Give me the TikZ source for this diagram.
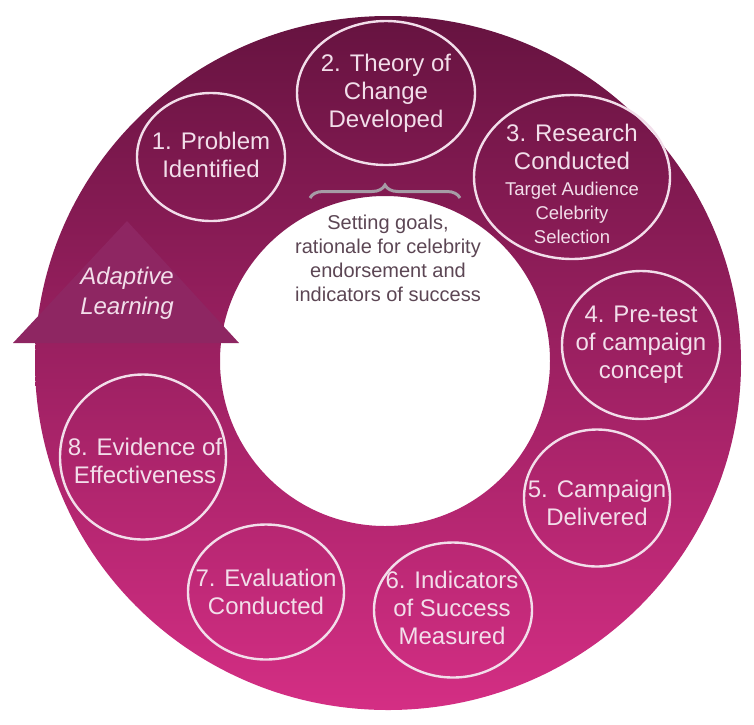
\documentclass[tikz,border=0pt]{standalone}
\usepackage{fontspec}
\setmainfont{Liberation Sans}
\usetikzlibrary{shapes.geometric,decorations.pathreplacing}
\definecolor{ringtop}{HTML}{661340}
\definecolor{ringmid}{HTML}{801C52}
\definecolor{ringbot}{HTML}{D42E84}
\definecolor{headfill}{HTML}{8E2662}
\definecolor{labelpink}{HTML}{F2DEEA}
\definecolor{notegray}{HTML}{5C4654}
\definecolor{bracegray}{HTML}{A69CA6}

\tikzset{
  stage/.style={draw=labelpink, line width=2.4pt, ellipse, inner sep=0pt},
  stagetext/.style={text=labelpink, align=center, inner sep=0pt, font=\fontsize{24}{28}\selectfont},
  subtext/.style={text=labelpink, align=center, inner sep=0pt, font=\fontsize{18.5}{24}\selectfont},
  notetext/.style={text=notegray, align=center, inner sep=0pt, font=\fontsize{20}{24}\selectfont}
}

\begin{document}
\begin{tikzpicture}[x=1pt, y=-1pt]
  \useasboundingbox (0,0) rectangle (754,724);
  \shade[top color=ringtop, middle color=ringmid, bottom color=ringbot, even odd rule]
    (388,363) ellipse (353 and 347) (385,361) circle (165);
  \fill[headfill] (13,343) -- (127,221) -- (239,343) -- cycle;
  \node[stagetext, font=\fontsize{24}{30}\selectfont\itshape] (adapt) at (127,293) {Adaptive\\Learning};

  \node[stage, minimum width=148, minimum height=128] (s1) at (211,157) {};
  \node[stage, minimum width=178, minimum height=144] (s2) at (386,93) {};
  \node[stage, minimum width=196, minimum height=164] (s3) at (572,177) {};
  \node[stage, minimum width=158, minimum height=148] (s4) at (641,345) {};
  \node[stage, minimum width=146, minimum height=137] (s5) at (597,498) {};
  \node[stage, minimum width=158, minimum height=135] (s6) at (453,610) {};
  \node[stage, minimum width=156, minimum height=135] (s7) at (266,592) {};
  \node[stage, minimum width=166, minimum height=165] (s8) at (143,457) {};

  \node[stagetext] (t1) at (211,155) {1. Problem\\Identified};
  \node[stagetext] (t2) at (386,93) {2. Theory of\\Change\\Developed};
  \node[stagetext] (t3) at (572,147) {3. Research\\Conducted};
  \node[subtext] (t3b) at (572,213) {Target Audience\\Celebrity\\Selection};
  \node[stagetext] (t4) at (641,345) {4. Pre-test\\of campaign\\concept};
  \node[stagetext] (t5) at (597,503) {5. Campaign\\Delivered};
  \node[stagetext] (t6) at (452,608) {6. Indicators\\of Success\\Measured};
  \node[stagetext] (t7) at (266,592) {7. Evaluation\\Conducted};
  \node[stagetext] (t8) at (145,461) {8. Evidence of\\Effectiveness};

  \coordinate (bl) at (310,198);
  \coordinate (br) at (460,198);
  \draw[bracegray, line width=3pt, decorate, decoration={brace, amplitude=13pt}] (bl) -- (br);
  \node[notetext] (goals) at (388,258) {Setting goals,\\rationale for celebrity\\endorsement and\\indicators of success};
\end{tikzpicture}
\end{document}
